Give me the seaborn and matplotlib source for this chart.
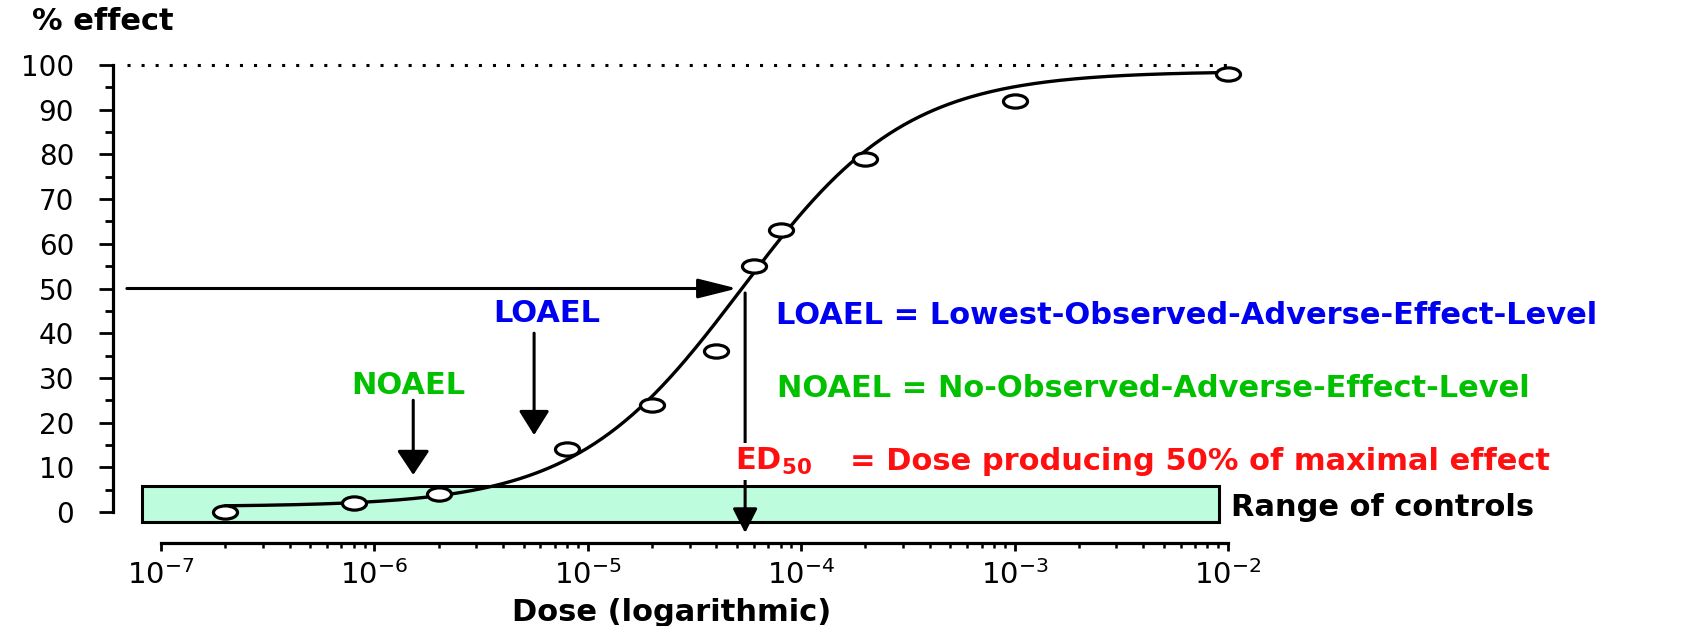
import numpy as np
import matplotlib
matplotlib.use("Agg")
import matplotlib.pyplot as plt
import seaborn as sns
from matplotlib.path import Path
from matplotlib.transforms import Affine2D
from matplotlib.patches import Rectangle

# ---------------- data ----------------
dose = [2e-7, 8e-7, 2e-6, 8e-6, 2e-5, 4e-5, 6e-5, 8e-5, 2e-4, 1e-3, 1e-2]
effect = [0, 2, 4, 14, 24, 36, 55, 63, 79, 92, 98]

# fitted dose-response (Hill) curve parameters
fit_bottom = 1.2
fit_top = 98.6
fit_log_ed50 = -4.28
fit_hill = 1.12

ed50_dose = 10 ** -4.263
loael_dose = 5.6e-6
noael_dose = 1.52e-6
control_effect = [-2.2, 5.8]
control_dose = [8.15e-8, 9.08e-3]

x_ticks = [1e-7, 1e-6, 1e-5, 1e-4, 1e-3, 1e-2]
y_ticks = list(range(0, 101, 10))

# ---------------- style ----------------
sns.set_theme(style="ticks", rc={
    "axes.edgecolor": "black", "xtick.color": "black", "ytick.color": "black",
    "text.color": "black", "axes.labelcolor": "black"})
plt.rcParams["font.family"] = ["DejaVu Sans"]

BLUE = "#0000F0"
GREEN = "#00C000"
RED = "#FF1010"
MINT = "#BEFCDE"
ann_fs = 22

fig = plt.figure(figsize=(17.01, 6.26), dpi=100)
ax = fig.add_axes([113 / 1701, 1 - 543 / 626, 1582 / 1701, 478 / 626])
ax.set_xscale("log")
ax.set_xlim(10 ** -7.225, 10 ** 0.188)
ax.set_ylim(-6.935, 100)

# fitted curve
x_fit = np.logspace(np.log10(dose[0]), np.log10(dose[-1]), 400)
y_fit = fit_bottom + (fit_top - fit_bottom) / (1 + 10 ** ((fit_log_ed50 - np.log10(x_fit)) * fit_hill))
sns.lineplot(x=x_fit, y=y_fit, color="black", lw=2.4, ax=ax, zorder=3)

# observed points (open, slightly wide circles as in the reference)
ellipse = Path.unit_circle().transformed(Affine2D().scale(1.0, 0.55))
sns.scatterplot(x=dose, y=effect, marker=ellipse, s=300, color="white",
                edgecolor="black", linewidth=2.3, ax=ax, zorder=5, clip_on=False)

# range of controls box
ax.add_patch(Rectangle((control_dose[0], control_effect[0]),
                       control_dose[1] - control_dose[0],
                       control_effect[1] - control_effect[0],
                       facecolor=MINT, edgecolor="black", lw=2.2, zorder=1, clip_on=False))
ax.text(1.03e-2, 0.9, "Range of controls", fontsize=ann_fs, fontweight="bold",
        ha="left", va="center")

# 100 % dotted line
ax.plot([10 ** -7.16, 1e-2], [100, 100], ls=(0, (1, 3.6)), color="black", lw=2.2,
        clip_on=False, zorder=2)

# arrows
def arrow(xy, xytext, hl, hw):
    ax.annotate("", xy=xy, xytext=xytext, annotation_clip=False, zorder=4,
                arrowprops=dict(arrowstyle=f"-|>,head_length={hl},head_width={hw}",
                                color="black", lw=2.2, shrinkA=0, shrinkB=0,
                                mutation_scale=20))

arrow((10 ** -4.30, 50), (10 ** -7.16, 50), 1.2, 0.3)
arrow((ed50_dose, -4.7), (ed50_dose, 49), 0.75, 0.38)
arrow((loael_dose, 17.2), (loael_dose, 40), 0.75, 0.47)
arrow((noael_dose, 8.3), (noael_dose, 25), 0.75, 0.5)

# labels
ax.text(10 ** -5.191, 44.4, "LOAEL", color=BLUE, fontsize=ann_fs, fontweight="bold",
        ha="center", va="center")
ax.text(10 ** -5.843, 28.4, "NOAEL", color=GREEN, fontsize=ann_fs, fontweight="bold",
        ha="center", va="center")
ax.text(10 ** -4.118, 44.0, "LOAEL = Lowest-Observed-Adverse-Effect-Level", color=BLUE,
        fontsize=ann_fs, fontweight="bold", ha="left", va="center")
ax.text(10 ** -4.113, 27.7, "NOAEL = No-Observed-Adverse-Effect-Level", color=GREEN,
        fontsize=ann_fs, fontweight="bold", ha="left", va="center")
ax.text(10 ** -4.31, 9.4, r"ED$_\mathbf{50}$", color=RED, fontsize=ann_fs,
        fontweight="bold", ha="left", va="baseline", zorder=6,
        bbox=dict(facecolor="white", edgecolor="none", pad=2))
ax.text(10 ** -3.771, 9.4, "= Dose producing 50% of maximal effect", color=RED,
        fontsize=ann_fs, fontweight="bold", ha="left", va="baseline")

# axes
ax.set_yticks(y_ticks)
ax.set_yticks(np.arange(5, 100, 10), minor=True)
ax.set_xticks(x_ticks)
ax.set_xticks([k * 10.0 ** e for e in range(-7, -2) for k in range(2, 10)], minor=True)

for s in ("top", "right"):
    ax.spines[s].set_visible(False)
ax.spines["left"].set_bounds(0, 100)
ax.spines["bottom"].set_bounds(1e-7, 1e-2)
ax.spines["left"].set_linewidth(2.3)
ax.spines["bottom"].set_linewidth(2.3)

ax.tick_params(axis="y", which="major", direction="out", length=10, width=2.0,
               labelsize=20, pad=18)
ax.tick_params(axis="y", which="minor", direction="out", length=6, width=2.0)
ax.tick_params(axis="x", which="major", direction="out", length=5.5, width=2.0,
               labelsize=21, pad=7)
ax.tick_params(axis="x", which="minor", direction="out", length=3.8, width=1.8)

ax.set_xlabel("Dose (logarithmic)", fontsize=22, fontweight="bold")
ax.xaxis.set_label_coords((672 - 113) / 1582, (543 - 598) / 478)
ax.set_ylabel("% effect", fontsize=22, fontweight="bold", rotation=0,
              ha="left", va="center")
ax.yaxis.set_label_coords((32 - 113) / 1582, (543 - 22) / 478)

fig.savefig("out.png", dpi=100)
